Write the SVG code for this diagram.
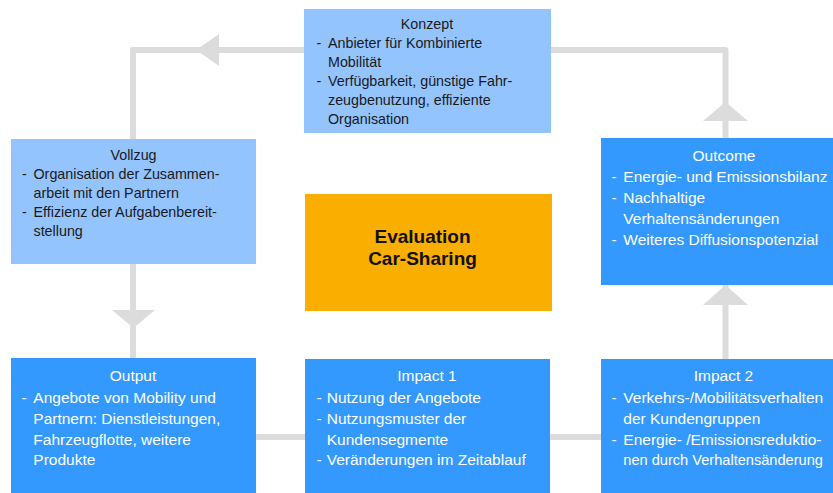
<svg xmlns="http://www.w3.org/2000/svg" width="833" height="493" viewBox="0 0 833 493">
<style>
.line{fill:none;stroke:#DCDCDC;stroke-width:6;stroke-linejoin:round}
.head{fill:#DCDCDC}
.light{fill:#93C4FE}
.dark{fill:#3399FF}
.orange{fill:#F9AE00}
text{font-family:"Liberation Sans",Arial,sans-serif}
.t1{font-size:14.3px;fill:#1a1a1a}
.t2{font-size:15.5px;fill:#ffffff}
.c{text-anchor:middle}
.ev{font-size:19px;font-weight:bold;fill:#111111;text-anchor:middle}
</style>
<rect width="833" height="493" fill="#ffffff"/>
<g id="connectors">
<polyline class="line" points="304,50 133,50 133,139"/>
<polygon class="head" points="196,50 219,34 219,66"/>
<line class="line" x1="133" y1="264" x2="133" y2="358"/>
<polygon class="head" points="112,310 155,310 133.5,328"/>
<line class="line" x1="256" y1="437" x2="305" y2="437"/>
<line class="line" x1="550" y1="437" x2="601" y2="437"/>
<line class="line" x1="725.5" y1="359" x2="725.5" y2="285"/>
<polygon class="head" points="725.5,285 703,305 748,305"/>
<polyline class="line" points="725.5,138 725.5,50 551,50"/>
<polygon class="head" points="725.5,102 703,121 748,121"/>
</g>
<g id="konzept">
<rect class="light" x="304" y="9" width="247" height="124"/>
<text class="t1 c" x="427" y="29">Konzept</text>
<text class="t1" x="316.5" y="48">-</text><text class="t1" x="328" y="48">Anbieter für Kombinierte</text>
<text class="t1" x="328" y="67">Mobilität</text>
<text class="t1" x="316.5" y="86">-</text><text class="t1" x="328" y="86">Verfügbarkeit, günstige Fahr-</text>
<text class="t1" x="328" y="105">zeugbenutzung, effiziente</text>
<text class="t1" x="328" y="124">Organisation</text>
</g>
<g id="vollzug">
<rect class="light" x="11" y="139" width="245" height="125"/>
<text class="t1 c" x="133.5" y="160">Vollzug</text>
<text class="t1" x="22" y="179">-</text><text class="t1" x="33.5" y="179">Organisation der Zusammen-</text>
<text class="t1" x="33.5" y="198">arbeit mit den Partnern</text>
<text class="t1" x="22" y="217">-</text><text class="t1" x="33.5" y="217">Effizienz der Aufgabenbereit-</text>
<text class="t1" x="33.5" y="236">stellung</text>
</g>
<g id="evaluation">
<rect class="orange" x="305" y="194" width="247" height="117"/>
<text class="ev" x="422.5" y="243">Evaluation</text>
<text class="ev" x="422.5" y="265">Car-Sharing</text>
</g>
<g id="outcome">
<rect class="dark" x="601" y="138" width="232" height="147"/>
<text class="t2 c" x="724" y="160.5">Outcome</text>
<text class="t2" x="611.5" y="181.5">-</text><text class="t2" x="623.3" y="181.5">Energie- und Emissionsbilanz</text>
<text class="t2" x="611.5" y="202.5">-</text><text class="t2" x="623.3" y="202.5">Nachhaltige</text>
<text class="t2" x="623.3" y="223.5">Verhaltensänderungen</text>
<text class="t2" x="611.5" y="244.5">-</text><text class="t2" x="623.3" y="244.5">Weiteres Diffusionspotenzial</text>
</g>
<g id="output">
<rect class="dark" x="11" y="358" width="245" height="135"/>
<text class="t2 c" x="133" y="381">Output</text>
<text class="t2" x="21.5" y="403">-</text><text class="t2" x="33.3" y="403">Angebote von Mobility und</text>
<text class="t2" x="33.3" y="424">Partnern: Dienstleistungen,</text>
<text class="t2" x="33.3" y="444.5">Fahrzeugflotte, weitere</text>
<text class="t2" x="33.3" y="465">Produkte</text>
</g>
<g id="impact1">
<rect class="dark" x="305" y="359" width="245" height="134"/>
<text class="t2 c" x="427" y="381">Impact 1</text>
<text class="t2" x="316.5" y="403">-</text><text class="t2" x="326.7" y="403">Nutzung der Angebote</text>
<text class="t2" x="316.5" y="424">-</text><text class="t2" x="326.7" y="424">Nutzungsmuster der</text>
<text class="t2" x="326.7" y="444.5">Kundensegmente</text>
<text class="t2" x="316.5" y="465">-</text><text class="t2" x="326.7" y="465">Veränderungen im Zeitablauf</text>
</g>
<g id="impact2">
<rect class="dark" x="601" y="359" width="232" height="134"/>
<text class="t2 c" x="723.5" y="381">Impact 2</text>
<text class="t2" x="611.5" y="403">-</text><text class="t2" x="623.3" y="403">Verkehrs-/Mobilitätsverhalten</text>
<text class="t2" x="623.3" y="424">der Kundengruppen</text>
<text class="t2" x="611.5" y="444.5">-</text><text class="t2" x="623.3" y="444.5">Energie- /Emissionsreduktio-</text>
<text class="t2" x="623.3" y="465" style="font-size:14.6px">nen durch Verhaltensänderung</text>
</g>
</svg>
